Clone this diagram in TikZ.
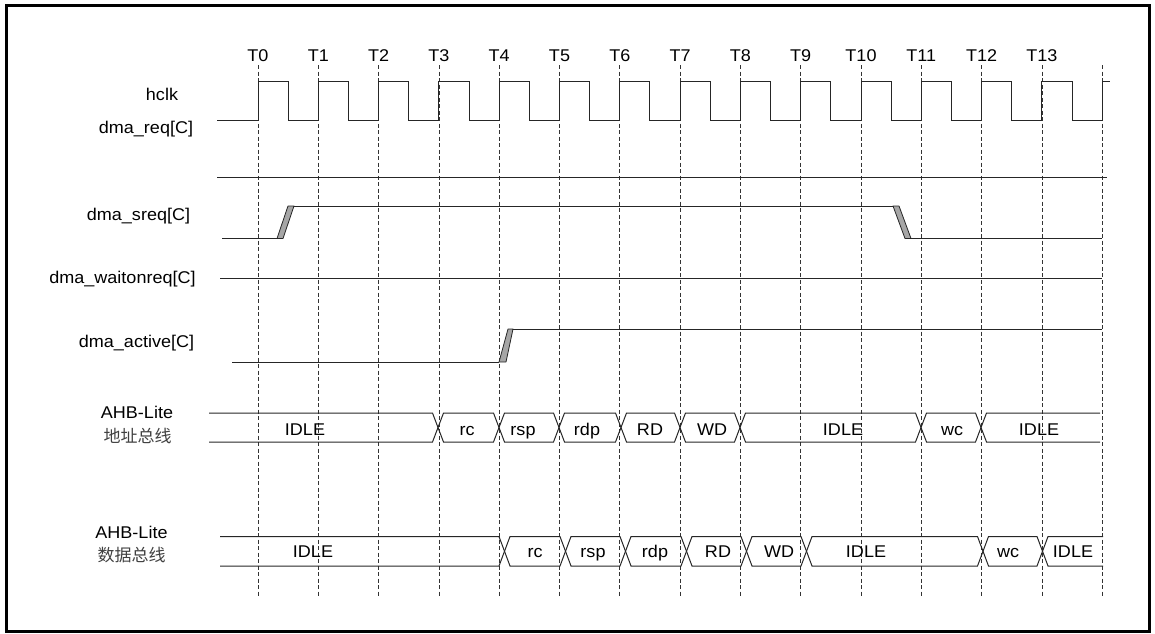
\documentclass[tikz,border=0pt]{standalone}
\usepackage{fontspec}
\setmainfont{Liberation Sans}[FakeStretch=1.06]
\newfontfamily\cjk{Noto Sans CJK SC}
\begin{document}
\begin{tikzpicture}[x=1pt,y=-1pt,
  sig/.style={line width=1pt, black!85},
  gridline/.style={line width=0.8pt, black!80, dash pattern=on 4pt off 2.5pt},
  lbl/.style={inner sep=0pt, anchor=base, font=\fontsize{17}{20}\selectfont},
  cjklbl/.style={inner sep=0pt, anchor=base, text=black!75, font=\fontsize{17}{20}\selectfont\cjk},
  slope/.style={draw=black!85, fill=black!35, line width=0.8pt, line join=round}]
\useasboundingbox (0,0) rectangle (1155,633);
\draw[line width=3pt] (6.5,5.5) rectangle (1149,631.5);

% time grid
\foreach \i in {0,...,14} {
  \draw[gridline] ({258+60.3*\i},65) -- ({258+60.3*\i},597);
}
\foreach \i in {0,...,13} {
  \node[lbl] (t\i) at ({258+60.3*\i},61) {T\i};
}

% signal names
\node[lbl] (nclk) at (162,100) {hclk};
\node[lbl] (nreq) at (146,133) {dma\_req[C]};
\node[lbl] (nsreq) at (138.5,220) {dma\_sreq[C]};
\node[lbl] (nwait) at (122.5,283) {dma\_waitonreq[C]};
\node[lbl] (nact) at (136.5,347) {dma\_active[C]};
\node[lbl] (naddr1) at (137,418) {AHB-Lite};
\node[cjklbl] (naddr2) at (137.5,442) {地址总线};
\node[lbl] (ndata1) at (131.5,538) {AHB-Lite};
\node[cjklbl] (ndata2) at (131.5,561) {数据总线};

% hclk
\draw[sig] (217,120)
  foreach \i in {0,...,13} {
    -- ({258+60.3*\i},120) -- ({258+60.3*\i},81)
    -- ({288.15+60.3*\i},81) -- ({288.15+60.3*\i},120)
  }
  -- (1102,120) -- (1102,81) -- (1110,81);

% dma_req
\draw[sig] (217,177) -- (1107,177);

% dma_sreq
\draw[sig] (222,238.5) -- (277,238.5);
\draw[slope] (277,238.5) -- (283,238.5) -- (294,206) -- (288,206) -- cycle;
\draw[sig] (294,206) -- (893,206);
\draw[slope] (893,206) -- (899,206) -- (911,238.5) -- (905,238.5) -- cycle;
\draw[sig] (911,238.5) -- (1102,238.5);

% dma_waitonreq
\draw[sig] (220,278) -- (1102,278);

% dma_active
\draw[sig] (232,362) -- (499,362);
\draw[slope] (499,362) -- (506,362) -- (513,329) -- (508,329) -- cycle;
\draw[sig] (513,329) -- (1102,329);

% address bus
\def\h{5.5}
\draw[sig] (209,413) -- (438-\h,413) -- (438,427.5) -- (438-\h,442) -- (209,442);
\foreach \a/\b in {438/499,499/559,559/621,621/680,680/740,740/921,921/981} {
  \draw[sig] (\a,427.5) -- (\a+\h,413) -- (\b-\h,413) -- (\b,427.5) -- (\b-\h,442) -- (\a+\h,442) -- cycle;
}
\draw[sig] (1100,413) -- (981+\h,413) -- (981,427.5) -- (981+\h,442) -- (1100,442);
\foreach \x/\t/\n in {305/IDLE/a1,467/rc/a2,523/rsp/a3,587/rdp/a4,650/RD/a5,712/WD/a6,843/IDLE/a7,952/wc/a8,1039/IDLE/a9} {
  \node[lbl] (\n) at (\x,435) {\t};
}

% data bus
\draw[sig] (220,536.5) -- (504.5-\h,536.5) -- (504.5,551.25) -- (504.5-\h,566) -- (220,566);
\foreach \a/\b in {504.5/565.5,565.5/625.5,625.5/686.5,686.5/746.5,746.5/806.5,806.5/983,983/1042.5} {
  \draw[sig] (\a,551.25) -- (\a+\h,536.5) -- (\b-\h,536.5) -- (\b,551.25) -- (\b-\h,566) -- (\a+\h,566) -- cycle;
}
\draw[sig] (1103,536.5) -- (1042.5+\h,536.5) -- (1042.5,551.25) -- (1042.5+\h,566) -- (1103,566);
\foreach \x/\t/\n in {313/IDLE/d1,535/rc/d2,593/rsp/d3,655/rdp/d4,718/RD/d5,779/WD/d6,866/IDLE/d7,1008/wc/d8,1073/IDLE/d9} {
  \node[lbl] (\n) at (\x,557) {\t};
}
\end{tikzpicture}
\end{document}
